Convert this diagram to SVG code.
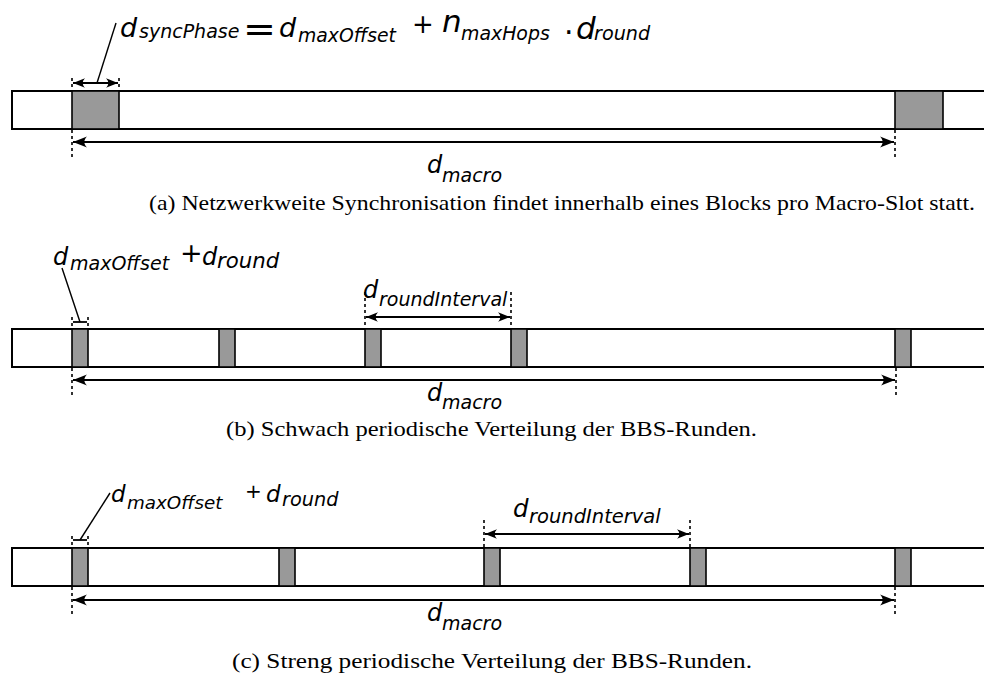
<svg xmlns="http://www.w3.org/2000/svg" width="984" height="680" viewBox="0 0 984 680">
  <style>
    .bar { fill: #ffffff; stroke: #000000; stroke-width: 2; }
    .blk { fill: #999999; stroke: #000000; stroke-width: 1.6; }
    .dash { stroke: #000000; stroke-width: 1.6; stroke-dasharray: 3 3; fill: none; }
    .dim { stroke: #000000; stroke-width: 1.8; fill: none; }
    .lead { stroke: #000000; stroke-width: 1.4; fill: none; }
    .m { font-family: "DejaVu Sans", "Liberation Sans", sans-serif; font-style: italic; fill: #000000; }
    .op { font-family: "DejaVu Sans", "Liberation Sans", sans-serif; fill: #000000; }
    .cap { font-family: "Liberation Serif", "DejaVu Serif", serif; font-size: 21px; fill: #000000; }
  </style>
  <defs>
    <marker id="arrow" markerUnits="userSpaceOnUse" viewBox="-15 -7 16 14" refX="0" refY="0" markerWidth="16" markerHeight="14" orient="auto-start-reverse">
      <path d="M0,0 L-14,-5.5 C-10.5,-2 -10.5,2 -14,5.5 Z" fill="#000000"/>
    </marker>
    <marker id="arrowS" markerUnits="userSpaceOnUse" viewBox="-13 -6 14 12" refX="0" refY="0" markerWidth="14" markerHeight="12" orient="auto-start-reverse">
      <path d="M0,0 L-12,-4.8 C-9,-1.8 -9,1.8 -12,4.8 Z" fill="#000000"/>
    </marker>
  </defs>

  <!-- (a) one sync block per macro slot -->
  <g id="slotA">
    <rect class="bar" x="12" y="91" width="990" height="38"/>
    <rect class="blk" x="72" y="91" width="47" height="38"/>
    <rect class="blk" x="895" y="91" width="48" height="38"/>
  </g>
  <g id="labelA">
    <text class="m" x="120" y="37" font-size="27">d</text>
    <text class="m" x="139" y="38" font-size="19">syncPhase</text>
    <text class="op" x="243" y="41" font-size="36" textLength="33" lengthAdjust="spacingAndGlyphs">=</text>
    <text class="m" x="279" y="37" font-size="27">d</text>
    <text class="m" x="298" y="41.5" font-size="18.8">maxOffset</text>
    <text class="op" x="412" y="33" font-size="26">+</text>
    <text class="m" x="442" y="32" font-size="31">n</text>
    <text class="m" x="461" y="40" font-size="18.9">maxHops</text>
    <text class="op" x="564" y="43" font-size="30">·</text>
    <text class="m" x="576" y="39" font-size="31">d</text>
    <text class="m" x="594" y="39.5" font-size="19.2">round</text>
  </g>
  <g id="macroA">
    <text class="m" x="427" y="173" font-size="24">d</text>
    <text class="m" x="442" y="182" font-size="19">macro</text>
  </g>
  <text id="captionA" class="cap" x="149" y="210" textLength="826" lengthAdjust="spacingAndGlyphs">(a) Netzwerkweite Synchronisation findet innerhalb eines Blocks pro Macro-Slot statt.</text>

  <!-- (b) weakly periodic rounds -->
  <g id="slotB">
    <rect class="bar" x="12" y="329" width="990" height="38"/>
    <rect class="blk" x="72" y="329" width="16" height="38"/>
    <rect class="blk" x="219" y="329" width="16" height="38"/>
    <rect class="blk" x="365" y="329" width="16" height="38"/>
    <rect class="blk" x="511" y="329" width="16" height="38"/>
    <rect class="blk" x="895" y="329" width="16" height="38"/>
  </g>
  <g id="labelB">
    <text class="m" x="53" y="265" font-size="24">d</text>
    <text class="m" x="70" y="270" font-size="19">maxOffset</text>
    <text class="op" x="180" y="262" font-size="27">+</text>
    <text class="m" x="202" y="265" font-size="24">d</text>
    <text class="m" x="217" y="267.5" font-size="21.3">round</text>
  </g>
  <g id="intervalB">
    <text class="m" x="363" y="298" font-size="24">d</text>
    <text class="m" x="379" y="306" font-size="19">roundInterval</text>
  </g>
  <g id="macroB">
    <text class="m" x="427" y="401" font-size="24">d</text>
    <text class="m" x="442" y="409" font-size="19">macro</text>
  </g>
  <text id="captionB" class="cap" x="226" y="436" textLength="531" lengthAdjust="spacingAndGlyphs">(b) Schwach periodische Verteilung der BBS-Runden.</text>

  <!-- (c) strictly periodic rounds -->
  <g id="slotC">
    <rect class="bar" x="12" y="548" width="990" height="38"/>
    <rect class="blk" x="72" y="548" width="16" height="38"/>
    <rect class="blk" x="279" y="548" width="16" height="38"/>
    <rect class="blk" x="484" y="548" width="16" height="38"/>
    <rect class="blk" x="690" y="548" width="16" height="38"/>
    <rect class="blk" x="895" y="548" width="16" height="38"/>
  </g>
  <g id="labelC">
    <text class="m" x="111" y="502" font-size="23">d</text>
    <text class="m" x="127" y="509" font-size="18.3">maxOffset</text>
    <text class="op" x="245" y="498" font-size="20">+</text>
    <text class="m" x="266" y="502" font-size="23">d</text>
    <text class="m" x="282" y="506" font-size="19.3">round</text>
  </g>
  <g id="intervalC">
    <text class="m" x="513" y="517" font-size="24.5">d</text>
    <text class="m" x="529" y="523" font-size="19.5">roundInterval</text>
  </g>
  <g id="macroC">
    <text class="m" x="427" y="621" font-size="24">d</text>
    <text class="m" x="442" y="630" font-size="19">macro</text>
  </g>
  <text id="captionC" class="cap" x="232" y="668" textLength="520" lengthAdjust="spacingAndGlyphs">(c) Streng periodische Verteilung der BBS-Runden.</text>

  <!-- dimension lines, extension lines and leaders -->
  <g id="connectors">
    <!-- (a) -->
    <line class="dash" x1="72" y1="78" x2="72" y2="91"/>
    <line class="dash" x1="119" y1="78" x2="119" y2="91"/>
    <line class="dim" x1="73" y1="83" x2="118" y2="83" marker-start="url(#arrowS)" marker-end="url(#arrowS)"/>
    <line class="lead" x1="97" y1="83" x2="116" y2="23"/>
    <line class="dash" x1="72" y1="130" x2="72" y2="158"/>
    <line class="dash" x1="895" y1="130" x2="895" y2="158"/>
    <line class="dim" x1="73" y1="142" x2="894" y2="142" marker-start="url(#arrow)" marker-end="url(#arrow)"/>

    <!-- (b) -->
    <line class="dash" x1="72" y1="317" x2="72" y2="329"/>
    <line class="dash" x1="88" y1="317" x2="88" y2="329"/>
    <line class="dim" x1="73" y1="322" x2="87" y2="322"/>
    <line class="lead" x1="80" y1="322" x2="62" y2="268"/>
    <line class="dash" x1="365" y1="292" x2="365" y2="329"/>
    <line class="dash" x1="511" y1="292" x2="511" y2="329"/>
    <line class="dim" x1="366" y1="317" x2="510" y2="317" marker-start="url(#arrowS)" marker-end="url(#arrowS)"/>
    <line class="dash" x1="72" y1="368" x2="72" y2="395"/>
    <line class="dash" x1="896" y1="368" x2="896" y2="395"/>
    <line class="dim" x1="73" y1="380" x2="895" y2="380" marker-start="url(#arrow)" marker-end="url(#arrow)"/>

    <!-- (c) -->
    <line class="dash" x1="72" y1="536" x2="72" y2="548"/>
    <line class="dash" x1="88" y1="536" x2="88" y2="548"/>
    <line class="dim" x1="73" y1="540" x2="87" y2="540"/>
    <line class="lead" x1="80" y1="540" x2="110" y2="493"/>
    <line class="dash" x1="484" y1="520" x2="484" y2="548"/>
    <line class="dash" x1="690" y1="520" x2="690" y2="548"/>
    <line class="dim" x1="485" y1="534" x2="689" y2="534" marker-start="url(#arrowS)" marker-end="url(#arrowS)"/>
    <line class="dash" x1="72" y1="587" x2="72" y2="614"/>
    <line class="dash" x1="895" y1="587" x2="895" y2="614"/>
    <line class="dim" x1="73" y1="600" x2="894" y2="600" marker-start="url(#arrow)" marker-end="url(#arrow)"/>
  </g>
</svg>
